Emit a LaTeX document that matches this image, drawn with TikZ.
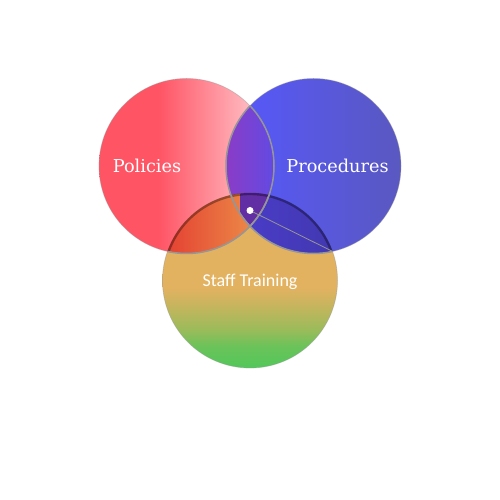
\documentclass[tikz,border=0pt]{standalone}
\usepackage{fontspec}
\newfontfamily\slabfont{DejaVu Serif}
\newfontfamily\calfont{Carlito}
\definecolor{polred}{RGB}{255,84,100}
\definecolor{polpink}{RGB}{255,212,216}
\definecolor{proleft}{RGB}{86,88,255}
\definecolor{proright}{RGB}{90,88,192}
\definecolor{stgreen}{RGB}{82,200,90}
\definecolor{stgreenb}{RGB}{105,195,90}
\definecolor{stkhaki}{RGB}{155,187,90}
\definecolor{stbuff}{RGB}{205,180,95}
\definecolor{storange}{RGB}{226,178,96}
\definecolor{lensleft}{RGB}{138,60,198}
\definecolor{lensright}{RGB}{98,74,226}
\definecolor{psleft}{RGB}{228,64,50}
\definecolor{psright}{RGB}{236,140,72}
\definecolor{prsleft}{RGB}{74,60,200}
\definecolor{prsright}{RGB}{66,56,176}
\definecolor{centre}{RGB}{98,46,164}
\definecolor{rimgray}{RGB}{150,150,150}
\pgfdeclarehorizontalshading{polshade}{100bp}{color(0bp)=(polred); color(25bp)=(polred); color(42bp)=(polred); color(75bp)=(polpink); color(100bp)=(polpink)}
\pgfdeclarehorizontalshading{proshade}{100bp}{color(0bp)=(proleft); color(25bp)=(proleft); color(75bp)=(proright); color(100bp)=(proright)}
\pgfdeclareverticalshading{stshade}{100bp}{color(0bp)=(stgreen); color(25bp)=(stgreen); color(31bp)=(stgreenb); color(36bp)=(stkhaki); color(44bp)=(stbuff); color(48bp)=(storange); color(100bp)=(storange)}
\tikzset{
  rim/.style={draw=rimgray, line width=1.5pt},
  outerrim/.style={draw=rimgray, draw opacity=0.45, line width=0.7pt},
  lbl/.style={text=white, anchor=base, inner sep=0pt},
  slab/.style={font=\slabfont\fontsize{17.7}{20}\selectfont},
  cal/.style={font=\calfont\fontsize{18}{21}\selectfont},
  dotnode/.style={circle, fill=white, inner sep=0pt, minimum size=7pt},
  conn/.style={draw=rimgray, line width=0.8pt}
}
\begin{document}
\begin{tikzpicture}[x=1pt, y=1pt]
\useasboundingbox[fill=white] (0,0) rectangle (500,500);
\coordinate (cP) at (186.5,334);
\coordinate (cR) at (313.5,334);
\coordinate (cS) at (250,219.5);
\def\rr{87.5}
% base circles
\shade[shading=stshade] (cS) circle[radius=\rr];
\shade[shading=polshade] (cP) circle[radius=\rr];
\shade[shading=proshade] (cR) circle[radius=\rr];
% overlap P and R
\begin{scope}
  \clip (cP) circle[radius=\rr];
  \clip (cR) circle[radius=\rr];
  \shade[left color=lensleft, right color=lensright] (226,240) rectangle (274,430);
\end{scope}
% overlap P and S
\begin{scope}
  \clip (cS) circle[radius=\rr];
  \clip (cP) circle[radius=\rr];
  \shade[left color=psleft, right color=psright] (165,240) rectangle (256,310);
\end{scope}
% overlap R and S
\begin{scope}
  \clip (cS) circle[radius=\rr];
  \clip (cR) circle[radius=\rr];
  \shade[left color=prsleft, right color=prsright] (244,240) rectangle (335,310);
\end{scope}
% centre
\begin{scope}
  \clip (cS) circle[radius=\rr];
  \clip (cP) circle[radius=\rr];
  \clip (cR) circle[radius=\rr];
  \fill[centre] (240,270) rectangle (275,310);
\end{scope}
% shadow along the top of the Staff Training circle
\draw[black, opacity=0.35, line width=2.4pt] ([shift={(19.4:\rr-1)}]cS) arc[start angle=19.4, end angle=160.6, radius=\rr-1];
% outer rims
\draw[outerrim] ([shift={(160.6:\rr)}]cS) arc[start angle=160.6, end angle=379.4, radius=\rr];
\draw[outerrim] (cP) circle[radius=\rr];
\draw[outerrim] (cR) circle[radius=\rr];
% inner rims
\begin{scope}
  \clip (cR) circle[radius=\rr];
  \draw[rim] (cP) circle[radius=\rr];
\end{scope}
\begin{scope}
  \clip (cS) circle[radius=\rr];
  \draw[rim] (cP) circle[radius=\rr];
\end{scope}
\begin{scope}
  \clip (cP) circle[radius=\rr];
  \draw[rim] (cR) circle[radius=\rr];
\end{scope}
\begin{scope}
  \clip (cS) circle[radius=\rr];
  \draw[rim] (cR) circle[radius=\rr];
\end{scope}
% labels
\node[lbl, slab] (pol) at (147,327) {Policies};
\node[lbl, slab] (pro) at (337.5,327.5) {Procedures};
\node[lbl, cal] (st) at (250,213) {Staff Training};
% connector
\node[dotnode] (dot) at (250,289.5) {};
\coordinate (tip) at (332.6,248.6);
\draw[conn] (dot) -- (tip);
\end{tikzpicture}
\end{document}
